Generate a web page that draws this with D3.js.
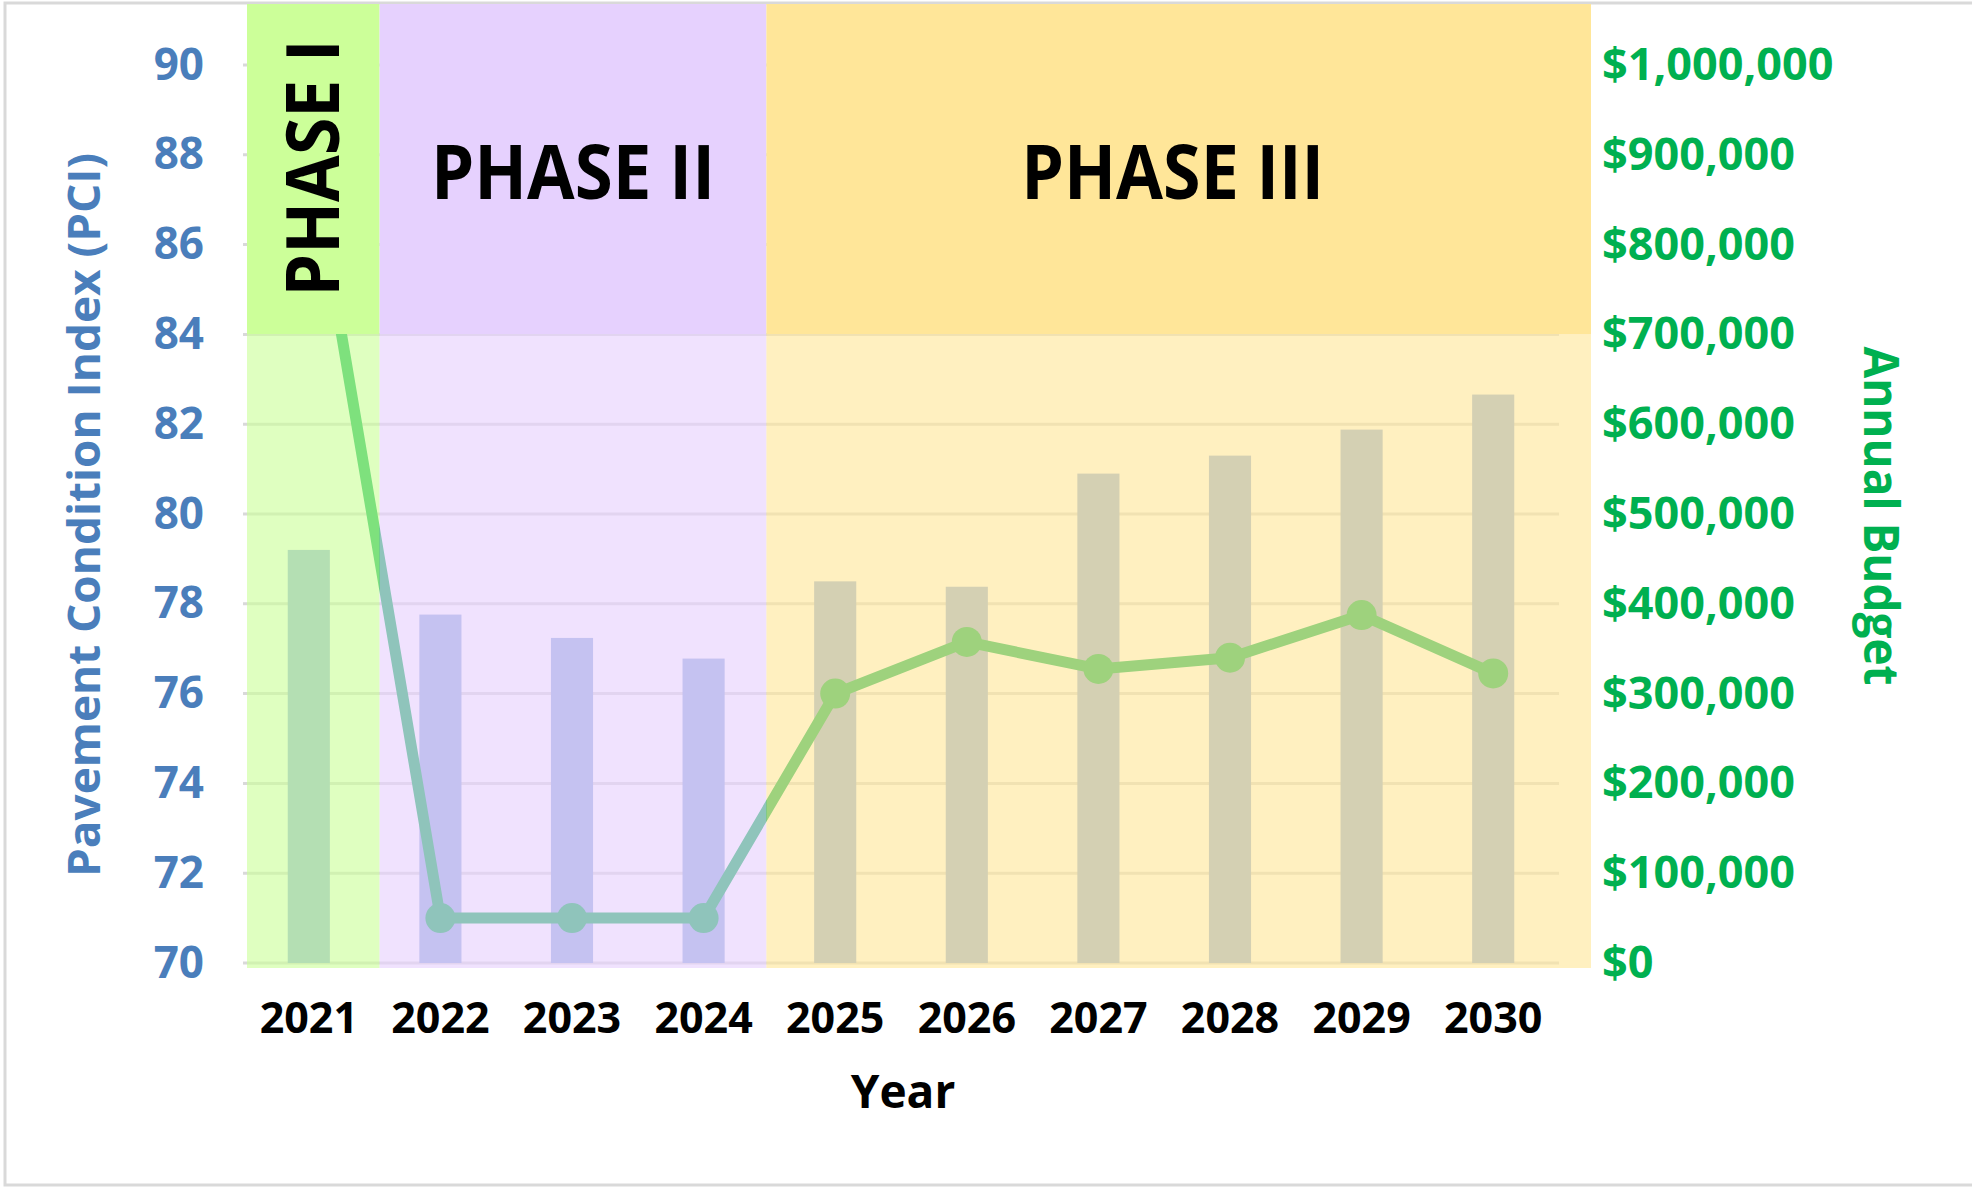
<!DOCTYPE html>
<html>
<head>
<meta charset="utf-8">
<script src="https://cdn.jsdelivr.net/npm/d3@7"></script>
<style>
    body { margin: 0; background: #fff; }
    svg { display: block; font-family: "Open Sans", sans-serif; font-weight: 700; }
</style>
</head>
<body>
<svg id="chart" width="1972" height="1189"></svg>
<script>
// Pavement condition vs. annual budget, by phase

var years = [2021, 2022, 2023, 2024, 2025, 2026, 2027, 2028, 2029, 2030];
// Annual budget (bars, right axis)
var budget = [460000, 388000, 362000, 339000, 425000, 419000, 545000, 565000, 594000, 633000];
// PCI (line, left axis)
var pci = [88.3, 71.0, 71.0, 71.0, 76.0, 77.15, 76.55, 76.8, 77.75, 76.45];

var pciTicks = d3.range(70, 91, 2);
var budgetTicks = d3.range(0, 1000001, 100000);

// phases: label, first year, last year, colour
var phaseLabels = ["PHASE I", "PHASE II", "PHASE III"];
var phaseFirst = [2021, 2022, 2025];
var phaseLast = [2021, 2024, 2030];
var phaseColors = ["#ccff99", "#e6d1fe", "#ffe699"];

var barColor = "#8faadc";
var lineColor = "#00b050";
var overlayAlpha = 0.62;

var plot = {left: 243, right: 1559, top: 65, bottom: 963};
var headerTop = 4, bandBottom = 968;

var $svg = d3.select("#chart");

// outer frame
$svg.append("rect")
    .attr("x", 5).attr("y", 3)
    .attr("width", 1975).attr("height", 1182)
    .attr("fill", "none")
    .attr("stroke", "#d9d9d9")
    .attr("stroke-width", 3);

var x = d3.scaleBand()
    .domain(years)
    .range([plot.left, plot.right])
    .paddingInner(0.68)
    .paddingOuter(0.34);
var step = x.step();
var xMid = function(yr){ return x(yr) + x.bandwidth()/2; };

var yL = d3.scaleLinear().domain([70, 90]).range([plot.bottom, plot.top]);
var yR = d3.scaleLinear().domain([0, 1000000]).range([plot.bottom, plot.top]);

// gridlines
$svg.append("g").selectAll("line")
    .data(pciTicks)
    .join("line")
    .attr("x1", plot.left).attr("x2", plot.right)
    .attr("y1", d => yL(d)).attr("y2", d => yL(d))
    .attr("stroke", "#d9d9d9")
    .attr("stroke-width", 3);

// budget bars
$svg.append("g").selectAll("rect")
    .data(years)
    .join("rect")
    .attr("x", d => x(d))
    .attr("width", x.bandwidth())
    .attr("y", (d, i) => yR(budget[i]))
    .attr("height", (d, i) => yR(0) - yR(budget[i]))
    .attr("fill", barColor);

// PCI line + markers
var line = d3.line()
    .x((d, i) => xMid(years[i]))
    .y(d => yL(d));
$svg.append("path")
    .datum(pci)
    .attr("d", line)
    .attr("fill", "none")
    .attr("stroke", lineColor)
    .attr("stroke-width", 11)
    .attr("stroke-linejoin", "round");
$svg.append("g").selectAll("circle")
    .data(pci)
    .join("circle")
    .attr("cx", (d, i) => xMid(years[i]))
    .attr("cy", d => yL(d))
    .attr("r", 15)
    .attr("fill", lineColor);

// phase boxes: edges follow category boundaries, nudged like the original shapes
var edgePad = {first: 4, last: 32};
function phaseX0(i){
    var idx = years.indexOf(phaseFirst[i]);
    var base = plot.left + idx*step;
    if (i == 0) return base + edgePad.first;
    return base + (i == 1 ? 5 : -3);
}
function phaseX1(i){
    if (i == phaseLabels.length-1) return plot.right + edgePad.last;
    return phaseX0(i+1);
}
var headerBottom = yL(84);

var $phases = $svg.append("g");
phaseLabels.forEach(function(lbl, i){
    var x0 = phaseX0(i), x1 = phaseX1(i);
    // translucent tint over the plot
    $phases.append("rect")
        .attr("x", x0).attr("y", headerBottom)
        .attr("width", x1 - x0).attr("height", bandBottom - headerBottom)
        .attr("fill", phaseColors[i])
        .attr("opacity", overlayAlpha);
    // solid header
    $phases.append("rect")
        .attr("x", x0).attr("y", headerTop)
        .attr("width", x1 - x0).attr("height", headerBottom - headerTop)
        .attr("fill", phaseColors[i]);
});

// phase labels
$phases.append("text")
    .attr("transform", `translate(${(phaseX0(0)+phaseX1(0))/2 + 26} 168) rotate(-90)`)
    .attr("text-anchor", "middle")
    .attr("font-size", 73)
    .attr("textLength", 257)
    .attr("lengthAdjust", "spacingAndGlyphs")
    .attr("fill", "#000")
    .text(phaseLabels[0]);
[1, 2].forEach(function(i){
    $phases.append("text")
        .attr("x", (phaseX0(i)+phaseX1(i))/2 - (i == 2 ? 6 : 0))
        .attr("y", 199)
        .attr("text-anchor", "middle")
        .attr("font-size", 75)
        .attr("textLength", i == 1 ? 284 : 303)
        .attr("lengthAdjust", "spacingAndGlyphs")
        .attr("fill", "#000")
        .text(phaseLabels[i]);
});

// axes
var $left = $svg.append("g")
    .attr("transform", `translate(${plot.left} 0)`)
    .call(d3.axisLeft(yL).tickValues(pciTicks).tickSize(0).tickPadding(39));
$left.select(".domain").remove();
$left.selectAll("text")
    .attr("font-size", 44)
    .attr("font-family", "Open Sans")
    .attr("font-weight", 700)
    .attr("fill", "#4a7ebb");

var $right = $svg.append("g")
    .attr("transform", `translate(${plot.right} 0)`)
    .call(d3.axisRight(yR).tickValues(budgetTicks).tickFormat(d3.format("$,")).tickSize(0).tickPadding(43));
$right.select(".domain").remove();
$right.selectAll("text")
    .attr("font-size", 45)
    .attr("font-family", "Open Sans")
    .attr("font-weight", 700)
    .attr("fill", lineColor);

var $bottom = $svg.append("g")
    .attr("transform", `translate(0 ${plot.bottom})`)
    .call(d3.axisBottom(x).tickSize(0).tickPadding(39));
$bottom.select(".domain").remove();
$bottom.selectAll("text")
    .attr("font-size", 43)
    .attr("font-family", "Open Sans")
    .attr("font-weight", 700)
    .attr("fill", "#000");

// axis titles
$svg.append("text")
    .attr("transform", "translate(100 515) rotate(-90)")
    .attr("text-anchor", "middle")
    .attr("font-size", 45)
    .attr("textLength", 724)
    .attr("lengthAdjust", "spacingAndGlyphs")
    .attr("fill", "#4a7ebb")
    .text("Pavement Condition Index (PCI)");

$svg.append("text")
    .attr("transform", "translate(1864 516) rotate(90)")
    .attr("text-anchor", "middle")
    .attr("font-size", 48)
    .attr("textLength", 339)
    .attr("lengthAdjust", "spacingAndGlyphs")
    .attr("fill", lineColor)
    .text("Annual Budget");

$svg.append("text")
    .attr("x", (plot.left + plot.right)/2 + 2)
    .attr("y", 1108)
    .attr("text-anchor", "middle")
    .attr("font-size", 46)
    .attr("fill", "#000")
    .text("Year");
</script>
</body>
</html>
